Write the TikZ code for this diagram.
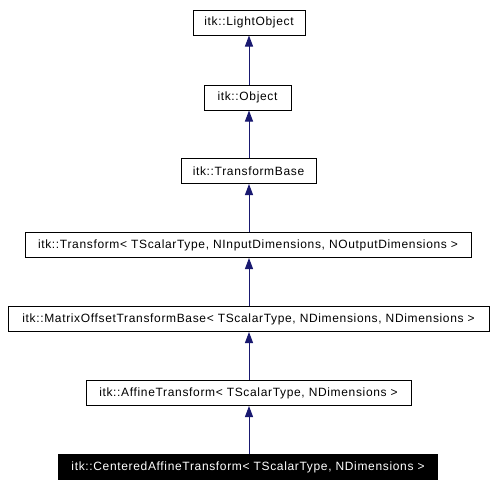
\documentclass[tikz,border=0pt]{standalone}
\usepackage{fontspec}
\setmainfont{Liberation Sans}
\newfontfamily\dgfont[LetterSpace=5.5]{Liberation Sans}
\usetikzlibrary{arrows.meta}
\definecolor{edgeblue}{HTML}{191970}
\begin{document}
\begin{tikzpicture}[x=1pt,y=-1pt,
  cls/.style={draw=black,line width=1pt,inner sep=0pt,minimum height=25pt,font=\dgfont\fontsize{12}{14}\selectfont,anchor=center},
  cur/.style={cls,fill=black,text=white},
  inh/.style={draw=edgeblue,line width=1pt,-{Triangle[length=11pt,width=8pt]}}]
\useasboundingbox (0,0) rectangle (495,490);
\node[cls,minimum width=112pt] (lo) at (249,22.5) {itk::LightObject};
\node[cls,minimum width=87pt] (ob) at (247.5,97.5) {itk::Object};
\node[cls,minimum width=135pt] (tb) at (248.5,171) {itk::TransformBase};
\node[cls,minimum width=446pt] (tr) at (248,245) {itk::Transform< TScalarType, NInputDimensions, NOutputDimensions >};
\node[cls,minimum width=481pt] (mo) at (248.5,319) {itk::MatrixOffsetTransformBase< TScalarType, NDimensions, NDimensions >};
\node[cls,minimum width=325pt] (af) at (248.5,393) {itk::AffineTransform< TScalarType, NDimensions >};
\node[cur,minimum width=379pt] (ca) at (248,467) {itk::CenteredAffineTransform< TScalarType, NDimensions >};
\draw[inh] (ob.north -| lo.south) -- (lo.south);
\draw[inh] (tb.north -| lo.south) -- (ob.south -| lo.south);
\draw[inh] (tr.north -| lo.south) -- (tb.south -| lo.south);
\draw[inh] (mo.north -| lo.south) -- (tr.south -| lo.south);
\draw[inh] (af.north -| lo.south) -- (mo.south -| lo.south);
\draw[inh] (ca.north -| lo.south) -- (af.south -| lo.south);
\end{tikzpicture}
\end{document}
